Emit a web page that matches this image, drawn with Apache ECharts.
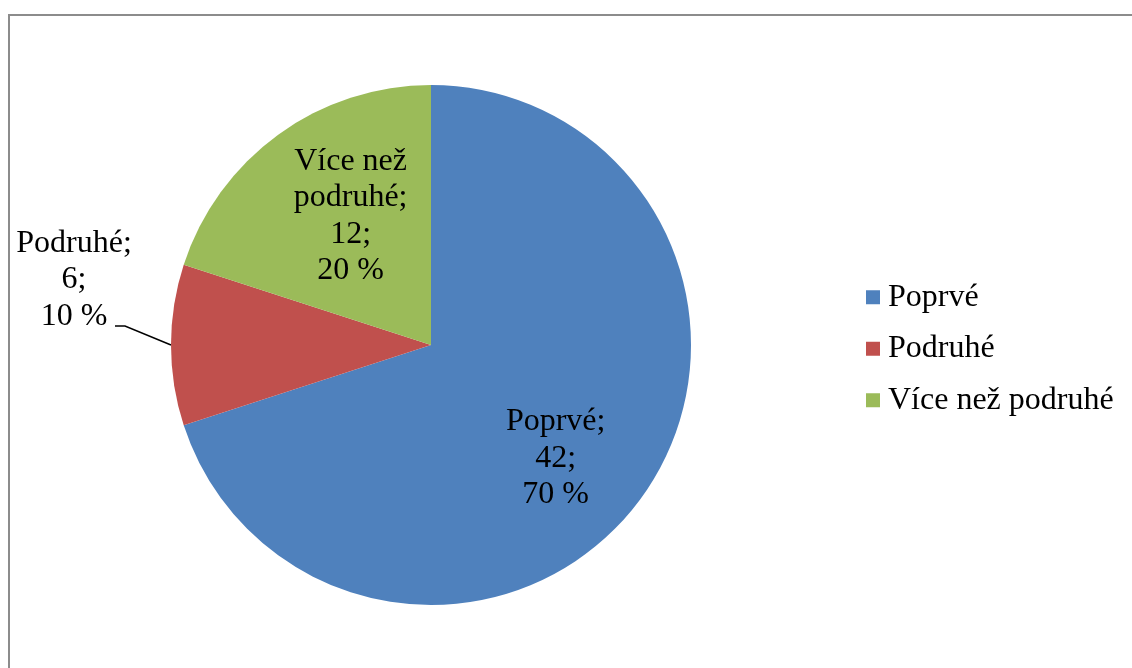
<!DOCTYPE html>
<html>
<head>
<meta charset="utf-8">
<script src="https://cdn.jsdelivr.net/npm/echarts@6/dist/echarts.min.js"></script>
<style>
html,body{margin:0;padding:0;background:#fff;}
#chart{width:1132px;height:668px;}
</style>
</head>
<body>
<div id="chart"></div>
<script>
const categories = ['Poprvé', 'Podruhé', 'Více než podruhé'];
const values = [42, 6, 12];
const colors = ['#4F81BD', '#C0504D', '#9BBB59'];

const FONT = "'Liberation Serif', 'Times New Roman', serif";
const FS = 32;

function fmt(p) {
  const name = p.name.replace(' podruhé', '\npodruhé');
  return ['{c|' + name + ';}', '{c|' + p.value + ';}', '{c|' + Math.round(p.percent) + ' %}'].join('\n');
}
const richC = { c: { align: 'center', fontFamily: FONT, fontSize: FS, lineHeight: 36.5, color: '#000' } };

const mainData = categories.map((n, i) => ({
  name: n, value: values[i], itemStyle: { color: colors[i] },
  label: i === 1 ? { show: true, position: 'outside', formatter: fmt, rich: richC, overflow: 'none' } : { show: false },
  labelLine: { show: i === 1 }
}));
const overlayData = categories.map((n, i) => ({
  name: n, value: values[i],
  label: { show: i !== 1, position: 'inside', formatter: fmt, rich: richC, overflow: 'none' }
}));

// small label offsets (style tweaks only)
const insideShift = [[-8, 17], [0, 0], [16, 4]];

const chart = echarts.init(document.getElementById('chart'), null, { renderer: 'canvas' });
chart.setOption({
  animation: false,
  backgroundColor: '#fff',
  graphic: [{
    type: 'rect', silent: true,
    shape: { x: 9, y: 15, width: 1200, height: 700 },
    style: { fill: 'none', stroke: '#8c8c8c', lineWidth: 2 }
  }],
  legend: {
    orient: 'vertical', left: 866, top: 279, padding: 0,
    itemWidth: 14, itemHeight: 14, itemGap: 15,
    icon: 'rect',
    data: categories,
    textStyle: { fontFamily: FONT, fontSize: FS, color: '#000', lineHeight: 36.5, padding: [0, 0, 0, 3] }
  },
  series: [{
    type: 'pie',
    center: [431, 345],
    radius: [0, 260],
    startAngle: 90,
    clockwise: true,
    data: mainData,
    label: { fontFamily: FONT, fontSize: FS },
    labelLine: { length: 46, length2: 10, lineStyle: { color: '#000', width: 1.5 } },
    labelLayout: function (p) {
      if (p.dataIndex !== 1) return {};
      const pts = p.labelLinePoints;
      const out = { dx: 14, dy: -65 };
      if (pts && pts.length === 3) {
        out.labelLinePoints = [
          [pts[0][0], pts[0][1]],
          [pts[1][0], pts[1][1] - 19],
          [pts[2][0], pts[2][1] - 19]
        ];
      }
      return out;
    },
    emphasis: { disabled: true }
  }, {
    type: 'pie',
    center: [431, 345],
    radius: [0, 322],
    startAngle: 90,
    clockwise: true,
    silent: true,
    data: overlayData,
    itemStyle: { color: 'rgba(0,0,0,0)' },
    labelLine: { show: false },
    labelLayout: function (p) {
      const s = insideShift[p.dataIndex];
      return { dx: s[0], dy: s[1] };
    },
    emphasis: { disabled: true },
    z: 3
  }]
});
</script>
</body>
</html>
